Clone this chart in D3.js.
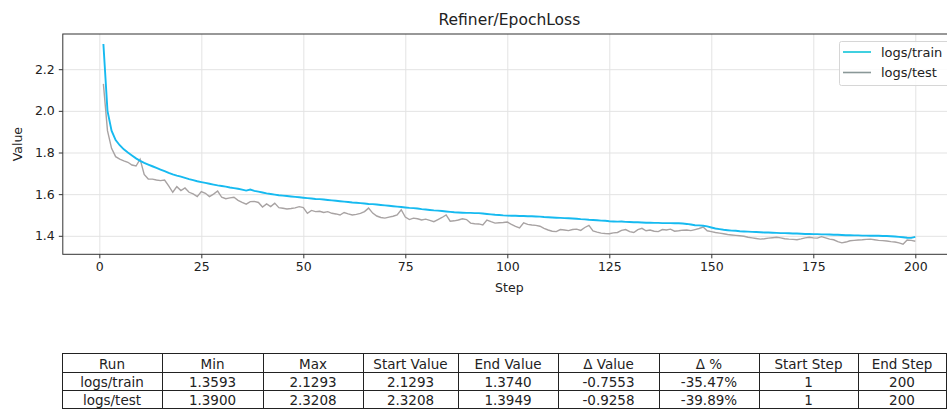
<!DOCTYPE html>
<html>
<head>
<meta charset="utf-8">
<script src="https://cdn.jsdelivr.net/npm/d3@7/dist/d3.min.js"></script>
<style>
  body { margin: 0; background: #fff; }
  svg { display: block; font-family: "DejaVu Sans", sans-serif; }
</style>
</head>
<body>
<div id="chart"></div>
<script>
// ---- data ----
const steps = d3.range(1, 201);

const trainLoss = [
  2.3208, 2.000, 1.905, 1.860, 1.835, 1.815, 1.800, 1.786, 1.772, 1.760,
  1.750, 1.742, 1.734, 1.726, 1.718, 1.710, 1.702, 1.695, 1.689, 1.684,
  1.678, 1.672, 1.667, 1.662, 1.658, 1.654, 1.650, 1.646, 1.642, 1.639,
  1.636, 1.632, 1.629, 1.626, 1.622, 1.617, 1.622, 1.616, 1.612, 1.608,
  1.604, 1.601, 1.598, 1.595, 1.593, 1.591, 1.589, 1.587, 1.585, 1.583,
  1.581, 1.579, 1.577, 1.576, 1.574, 1.572, 1.570, 1.568, 1.566, 1.564,
  1.562, 1.560, 1.559, 1.557, 1.555, 1.553, 1.552, 1.550, 1.548, 1.546,
  1.544, 1.542, 1.540, 1.538, 1.536, 1.534, 1.533, 1.531, 1.528, 1.526,
  1.524, 1.522, 1.521, 1.519, 1.517, 1.515, 1.513, 1.512, 1.511, 1.510,
  1.510, 1.509, 1.509, 1.507, 1.505, 1.503, 1.501, 1.500, 1.498, 1.497,
  1.496, 1.496, 1.495, 1.495, 1.494, 1.494, 1.493, 1.492, 1.490, 1.489,
  1.488, 1.487, 1.486, 1.485, 1.484, 1.483, 1.482, 1.480, 1.479, 1.477,
  1.476, 1.475, 1.473, 1.472, 1.470, 1.469, 1.468, 1.469, 1.467, 1.466,
  1.465, 1.465, 1.464, 1.463, 1.463, 1.462, 1.462, 1.461, 1.461, 1.461,
  1.460, 1.460, 1.459, 1.457, 1.454, 1.451, 1.450, 1.448, 1.445, 1.440,
  1.435, 1.432, 1.429, 1.427, 1.425, 1.424, 1.422, 1.421, 1.420, 1.419,
  1.418, 1.417, 1.416, 1.416, 1.415, 1.414, 1.413, 1.413, 1.412, 1.411,
  1.411, 1.410, 1.409, 1.409, 1.408, 1.408, 1.407, 1.407, 1.406, 1.405,
  1.405, 1.404, 1.403, 1.403, 1.402, 1.402, 1.401, 1.401, 1.400, 1.400,
  1.400, 1.399, 1.399, 1.398, 1.397, 1.395, 1.393, 1.391, 1.390, 1.3949
];

const testLoss = [
  2.1293, 1.905, 1.820, 1.780, 1.768, 1.760, 1.753, 1.740, 1.735, 1.768,
  1.695, 1.673, 1.672, 1.668, 1.665, 1.668, 1.640, 1.609, 1.636, 1.617,
  1.630, 1.609, 1.601, 1.588, 1.612, 1.604, 1.588, 1.600, 1.615, 1.585,
  1.578, 1.582, 1.585, 1.570, 1.560, 1.552, 1.564, 1.565, 1.560, 1.538,
  1.553, 1.540, 1.557, 1.535, 1.532, 1.529, 1.531, 1.534, 1.540, 1.535,
  1.508, 1.522, 1.516, 1.518, 1.512, 1.516, 1.508, 1.505, 1.500, 1.512,
  1.505, 1.500, 1.503, 1.508, 1.516, 1.533, 1.509, 1.495, 1.488, 1.485,
  1.490, 1.494, 1.500, 1.525, 1.490, 1.478, 1.485, 1.482, 1.476, 1.480,
  1.474, 1.468, 1.478, 1.488, 1.500, 1.470, 1.472, 1.476, 1.482, 1.478,
  1.461, 1.458, 1.457, 1.452, 1.476, 1.468, 1.461, 1.463, 1.464, 1.466,
  1.455, 1.445, 1.438, 1.462, 1.455, 1.452, 1.450, 1.446, 1.436, 1.428,
  1.422, 1.420, 1.430, 1.428, 1.425, 1.430, 1.432, 1.426, 1.440, 1.450,
  1.424, 1.418, 1.413, 1.411, 1.410, 1.414, 1.416, 1.426, 1.430, 1.420,
  1.416, 1.430, 1.436, 1.424, 1.428, 1.422, 1.420, 1.430, 1.428, 1.432,
  1.422, 1.424, 1.427, 1.428, 1.425, 1.430, 1.435, 1.442, 1.424, 1.420,
  1.416, 1.413, 1.410, 1.406, 1.404, 1.402, 1.400, 1.398, 1.393, 1.390,
  1.387, 1.384, 1.386, 1.389, 1.391, 1.393, 1.390, 1.386, 1.384, 1.383,
  1.381, 1.385, 1.390, 1.393, 1.390, 1.389, 1.396, 1.390, 1.384, 1.381,
  1.372, 1.366, 1.370, 1.376, 1.378, 1.380, 1.381, 1.383, 1.384, 1.381,
  1.378, 1.377, 1.375, 1.372, 1.370, 1.366, 1.3593, 1.380, 1.378, 1.374
];

const xTicks = [0, 25, 50, 75, 100, 125, 150, 175, 200];
const yTicks = [1.4, 1.6, 1.8, 2.0, 2.2];

const tableHeader = ['Run', 'Min', 'Max', 'Start Value', 'End Value', 'Δ Value', 'Δ %', 'Start Step', 'End Step'];
const tableRows = [
  ['logs/train', '1.3593', '2.1293', '2.1293', '1.3740', '-0.7553', '-35.47%', '1', '200'],
  ['logs/test', '1.3900', '2.3208', '2.3208', '1.3949', '-0.9258', '-39.89%', '1', '200']
];

// ---- layout ----
const width = 947, height = 415;
const plot = { left: 62.8, right: 955.9, top: 34, bottom: 254.3 };
const colTrain = '#16baf0';
const colTest = '#a8a3a3';

const svg = d3.select('#chart').append('svg')
  .attr('width', width)
  .attr('height', height);

const x = d3.scaleLinear().domain([-8.95, 209.95]).range([plot.left, plot.right]);
const y = d3.scaleLinear().domain([1.3112, 2.369]).range([plot.bottom, plot.top]);

// grid
svg.append('g')
  .attr('transform', `translate(0,${plot.bottom})`)
  .call(d3.axisBottom(x).tickValues(xTicks).tickSize(-(plot.bottom - plot.top)).tickFormat(''))
  .call(g => g.select('.domain').remove())
  .call(g => g.selectAll('line').attr('stroke', '#e3e3e3').attr('stroke-width', 1));

svg.append('g')
  .attr('transform', `translate(${plot.left},0)`)
  .call(d3.axisLeft(y).tickValues(yTicks).tickSize(-(plot.right - plot.left)).tickFormat(''))
  .call(g => g.select('.domain').remove())
  .call(g => g.selectAll('line').attr('stroke', '#e3e3e3').attr('stroke-width', 1));

// lines
const line = d3.line()
  .x((d, i) => x(steps[i]))
  .y(d => y(d));

svg.append('path')
  .datum(testLoss)
  .attr('fill', 'none')
  .attr('stroke', colTest)
  .attr('stroke-width', 1.4)
  .attr('d', line);

svg.append('path')
  .datum(trainLoss)
  .attr('fill', 'none')
  .attr('stroke', colTrain)
  .attr('stroke-width', 1.9)
  .attr('d', line);

// frame
svg.append('rect')
  .attr('x', plot.left)
  .attr('y', plot.top)
  .attr('width', plot.right - plot.left)
  .attr('height', plot.bottom - plot.top)
  .attr('fill', 'none')
  .attr('stroke', '#333')
  .attr('stroke-width', 1);

// axes
const xAxis = svg.append('g')
  .attr('transform', `translate(0,${plot.bottom})`)
  .call(d3.axisBottom(x).tickValues(xTicks).tickSize(4).tickPadding(4).tickFormat(d3.format('d')));
const yAxis = svg.append('g')
  .attr('transform', `translate(${plot.left},0)`)
  .call(d3.axisLeft(y).tickValues(yTicks).tickSize(4).tickPadding(4).tickFormat(d3.format('.1f')));

[xAxis, yAxis].forEach(a => {
  a.select('.domain').remove();
  a.selectAll('line').attr('stroke', '#333');
  a.selectAll('text').attr('fill', '#222').attr('font-size', 12.5).attr('font-family', 'DejaVu Sans');
});

// titles
svg.append('text')
  .text('Refiner/EpochLoss')
  .attr('x', (plot.left + plot.right) / 2)
  .attr('y', 25)
  .attr('text-anchor', 'middle')
  .attr('font-size', 15.5)
  .attr('fill', '#222');

svg.append('text')
  .text('Step')
  .attr('x', (plot.left + plot.right) / 2)
  .attr('y', 292)
  .attr('text-anchor', 'middle')
  .attr('font-size', 12.5)
  .attr('fill', '#222');

svg.append('text')
  .text('Value')
  .attr('transform', `translate(22,${(plot.top + plot.bottom) / 2}) rotate(-90)`)
  .attr('text-anchor', 'middle')
  .attr('font-size', 12.5)
  .attr('fill', '#222');

// legend
const legend = svg.append('g').attr('class', 'legend');
legend.append('rect')
  .attr('x', 839.5).attr('y', 41.5)
  .attr('width', 120).attr('height', 44)
  .attr('rx', 2)
  .attr('fill', 'rgba(255,255,255,0.85)')
  .attr('stroke', '#d6d6d6');

const legendItems = [
  { label: 'logs/train', color: '#10c4d8' },
  { label: 'logs/test', color: '#8a9898' }
];
legendItems.forEach((d, i) => {
  const ly = 52 + 20.5 * i;
  legend.append('line')
    .attr('x1', 843).attr('x2', 871)
    .attr('y1', ly).attr('y2', ly)
    .attr('stroke', d.color)
    .attr('stroke-width', 1.6);
  legend.append('text')
    .text(d.label)
    .attr('x', 881)
    .attr('y', ly)
    .attr('dominant-baseline', 'central')
    .attr('font-size', 13)
    .attr('fill', '#222');
});

// stats table
const colEdges = [62, 162, 263, 363, 458, 558, 659, 759, 858, 946];
const rowEdges = [353, 372, 390, 408];
const table = svg.append('g').attr('class', 'table');
const allRows = [tableHeader].concat(tableRows);

allRows.forEach((row, r) => {
  row.forEach((cell, c) => {
    table.append('rect')
      .attr('x', colEdges[c] + 0.5)
      .attr('y', rowEdges[r] + 0.5)
      .attr('width', colEdges[c + 1] - colEdges[c])
      .attr('height', rowEdges[r + 1] - rowEdges[r])
      .attr('fill', '#fff')
      .attr('stroke', '#222')
      .attr('stroke-width', 1);
    table.append('text')
      .text(cell)
      .attr('x', (colEdges[c] + colEdges[c + 1]) / 2)
      .attr('y', (rowEdges[r] + rowEdges[r + 1]) / 2 + 1)
      .attr('text-anchor', 'middle')
      .attr('dominant-baseline', 'central')
      .attr('font-size', 13.5)
      .attr('fill', '#222');
  });
});
</script>
</body>
</html>
